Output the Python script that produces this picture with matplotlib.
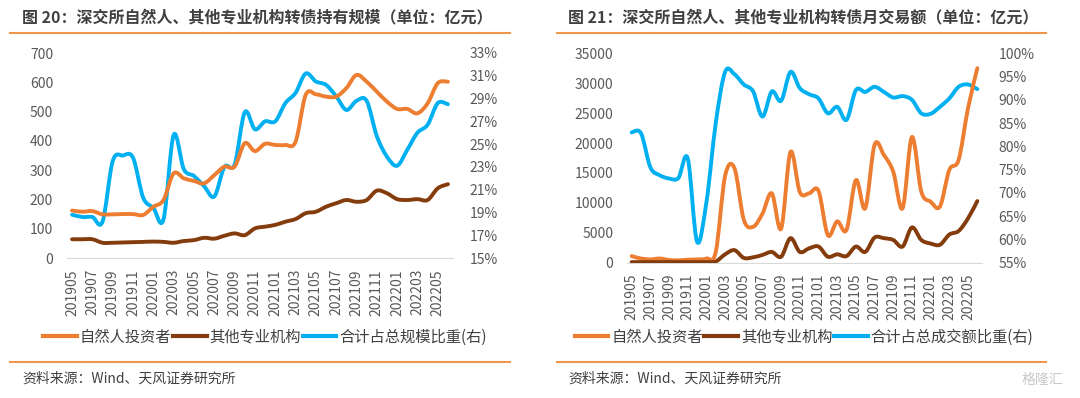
import matplotlib
matplotlib.use('Agg')
import matplotlib.pyplot as plt
import numpy as np
from matplotlib.lines import Line2D
from matplotlib.path import Path
from matplotlib.patches import PathPatch
from matplotlib.ticker import FuncFormatter

plt.rcParams['font.family'] = ['Noto Sans CJK SC', 'DejaVu Sans']

# 月份 201905 - 202206
months = ([f'2019{m:02d}' for m in range(5, 13)] + [f'2020{m:02d}' for m in range(1, 13)]
          + [f'2021{m:02d}' for m in range(1, 13)] + [f'2022{m:02d}' for m in range(1, 7)])

# 图20: 持有规模 (亿元) + 合计占比 (%)
hold_person = [162, 158, 160, 149, 149, 150, 150, 147, 175, 198,
               289, 272, 263, 255, 283, 312, 312, 392, 365, 390,
               386, 386, 397, 557, 559, 551, 551, 580, 625, 602,
               568, 534, 509, 509, 494, 528, 597, 602]
hold_inst = [64, 64, 64, 52, 52, 53, 54, 55, 56, 55,
             52, 58, 61, 69, 66, 76, 84, 78, 101, 107,
             113, 124, 133, 153, 158, 175, 187, 198, 192, 198,
             230, 221, 201, 198, 201, 198, 238, 252]
hold_share = [18.8, 18.6, 18.6, 18.2, 23.5, 24.0, 23.8, 20.3, 19.4, 18.4,
              25.8, 22.8, 22.2, 21.3, 20.4, 23.0, 23.2, 27.8, 26.3, 27.0,
              27.0, 28.6, 29.5, 31.2, 30.5, 30.2, 29.2, 28.0, 28.8, 28.8,
              25.7, 23.9, 23.1, 24.5, 26.0, 26.7, 28.6, 28.5]

# 图21: 月交易额 (亿元) + 合计占比 (%)
trade_person = [1100, 700, 550, 700, 450, 400, 500, 550, 700, 1800,
                14500, 15800, 7200, 6000, 8200, 11600, 5700, 18500, 11800, 11600,
                12000, 4600, 6900, 5500, 13800, 9100, 19700, 18000, 15200, 9100,
                21000, 11900, 10200, 9400, 15500, 17200, 25800, 32500]
trade_inst = [100, 100, 100, 100, 100, 100, 100, 100, 100, 200,
              1400, 2100, 800, 900, 1300, 1800, 1000, 4100, 1800, 2400,
              2700, 1000, 1400, 1100, 2700, 1800, 4200, 4100, 3800, 2700,
              5900, 3800, 3200, 3000, 4700, 5300, 7400, 10300]
trade_share = [83.0, 82.8, 75.5, 73.8, 73.1, 73.2, 77.4, 59.5, 68.0, 85.0,
               96.0, 95.5, 93.3, 91.8, 86.4, 91.8, 89.8, 96.0, 92.5, 91.2,
               90.3, 87.1, 88.5, 85.7, 92.1, 91.7, 92.8, 91.7, 90.5, 90.8,
               90.0, 87.1, 87.0, 88.5, 90.3, 92.8, 93.3, 92.3]

C_ORANGE, C_BROWN, C_BLUE = '#ED7D31', '#843C0C', '#00B0F0'
C_TXT, C_TICK, C_RULE = '#404040', '#595959', '#F0984A'
W, H = 1080, 398


def fx(px):
    return px / W


def fy(py):
    return 1 - py / H


def smooth_line(ax, y, color):
    # Excel 式平滑线: 过每个数据点的贝塞尔曲线
    pts = np.column_stack([np.arange(len(y)), np.asarray(y, float)])
    ext = np.vstack([pts[0], pts, pts[-1]])
    verts, codes = [pts[0]], [Path.MOVETO]
    for i in range(len(pts) - 1):
        p0, p1, p2, p3 = ext[i], ext[i + 1], ext[i + 2], ext[i + 3]
        verts += [p1 + (p2 - p0) / 6, p2 - (p3 - p1) / 6, p2]
        codes += [Path.CURVE4] * 3
    ax.add_patch(PathPatch(Path(verts, codes), fill=False, edgecolor=color, lw=2.8,
                           capstyle='round', joinstyle='round', zorder=3))


def panel(fig, box, p, q, s, ylim, yticks, rlim, rticks, rfmt):
    x0, x1, ytop, ybot = box
    ax = fig.add_axes([fx(x0), fy(ybot), fx(x1 - x0), (ybot - ytop) / H])
    ax2 = ax.twinx()
    smooth_line(ax, p, C_ORANGE)
    smooth_line(ax, q, C_BROWN)
    smooth_line(ax2, s, C_BLUE)
    ax.set_xlim(-0.5, len(months) - 0.5)
    ax.set_ylim(*ylim); ax.set_yticks(yticks)
    ax2.set_ylim(*rlim); ax2.set_yticks(rticks)
    ax2.yaxis.set_major_formatter(FuncFormatter(rfmt))
    ax.set_xticks(range(0, len(months), 2))
    ax.set_xticklabels(months[::2], rotation=90)
    for a in (ax, ax2):
        for sp in a.spines.values():
            sp.set_visible(False)
        a.tick_params(length=0, labelsize=10, labelcolor=C_TICK)
    ax.spines['bottom'].set_visible(True)
    ax.spines['bottom'].set_color('#D9D9D9')
    ax.tick_params(axis='y', pad=10)
    ax2.tick_params(axis='y', pad=12)
    ax.tick_params(axis='x', pad=8)
    ax.set_zorder(ax2.get_zorder() + 1); ax.patch.set_visible(False)
    return ax


fig = plt.figure(figsize=(W / 100, H / 100), dpi=100)

panel(fig, (67, 453, 53, 258), hold_person, hold_inst, hold_share,
      (0, 700), range(0, 701, 100), (15, 33), range(15, 34, 2), lambda v, _: f'{v:.0f}%')
panel(fig, (627, 982, 53.3, 262.7), trade_person, trade_inst, trade_share,
      (0, 35000), range(0, 35001, 5000), (55, 100), range(55, 101, 5), lambda v, _: f'{v:.0f}%')

titles = ['图 20：深交所自然人、其他专业机构转债持有规模（单位：亿元）',
          '图 21：深交所自然人、其他专业机构转债月交易额（单位：亿元）']
share_names = ['合计占总规模比重(右)', '合计占总成交额比重(右)']
for (xl, xr, tx, lx), title, sname in zip([(10, 510, 22, 265), (557, 1046, 568, 804)], titles, share_names):
    fig.text(fx(tx), fy(17), title, fontsize=11.5, fontweight='bold', color=C_TXT, va='center')
    fig.add_artist(Line2D([fx(xl), fx(xr)], [fy(33), fy(33)], color=C_RULE, lw=1.5))
    fig.add_artist(Line2D([fx(xl), fx(xr)], [fy(362), fy(362)], color=C_RULE, lw=1.5))
    fig.text(fx(tx), fy(379), '资料来源：Wind、天风证券研究所', fontsize=10, color=C_TXT, va='center')
    handles = [Line2D([], [], color=c, lw=3) for c in (C_ORANGE, C_BROWN, C_BLUE)]
    fig.legend(handles, ['自然人投资者', '其他专业机构', sname], loc='center',
               bbox_to_anchor=(fx(lx), fy(337)), ncol=3, frameon=False, fontsize=11,
               labelcolor=C_TXT, handlelength=2.2, handletextpad=0.2, columnspacing=0.1)

fig.text(fx(1042), fy(380), '格隆汇', fontsize=10, color='#C8C8C8', va='center', ha='center')

fig.savefig('out.png', dpi=100)
